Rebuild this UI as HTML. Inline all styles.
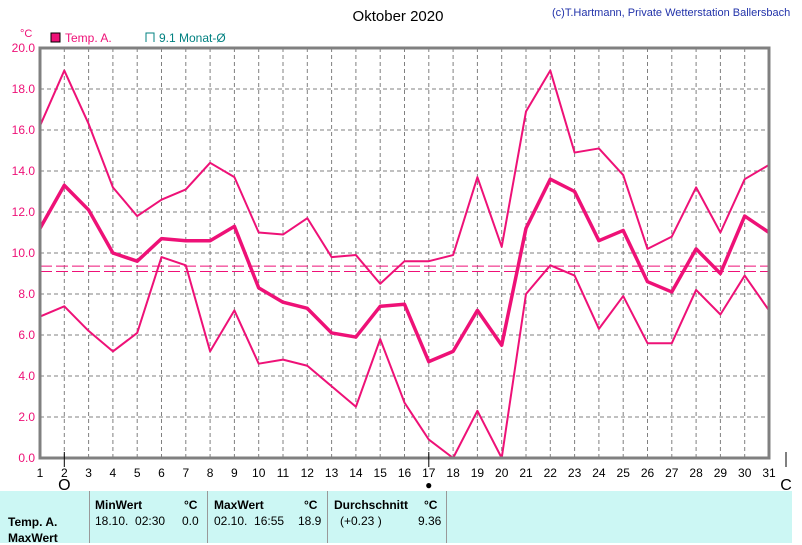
<!DOCTYPE html>
<html><head><meta charset="utf-8"><style>
body{margin:0;background:#fff;width:802px;height:543px;overflow:hidden;font-family:"Liberation Sans",sans-serif}
svg{position:absolute;left:0;top:0}
.panel{position:absolute;left:0;top:491px;width:792px;height:52px;background:#ccf7f4;font-size:12px;font-family:"Liberation Sans",sans-serif}
.panel div{position:absolute}
.b{font-weight:bold}
.vl{position:absolute;top:0;width:1px;height:52px;background:#999}
</style></head><body>
<svg width="802" height="543" id="chart">
<text x="398" y="21" font-size="15" text-anchor="middle" fill="#000">Oktober 2020</text>
<text x="552" y="16" font-size="11" fill="#2233aa">(c)T.Hartmann, Private Wetterstation Ballersbach</text>
<text x="20" y="37" font-size="11" fill="#ee1177">°C</text>
<rect x="51" y="33" width="9" height="9" fill="#ee1177" stroke="#000"/>
<text x="65" y="42" font-size="12" fill="#ee1177">Temp. A.</text>
<path d="M146 42V33h8v9" fill="none" stroke="#008080"/>
<text x="159" y="42" font-size="12" fill="#008080">9.1 Monat-Ø</text>
<g id="grid"></g><g id="series"></g><g id="axes"></g>
</svg>
<div class="panel">
<div class="vl" style="left:89px"></div><div class="vl" style="left:207px"></div><div class="vl" style="left:327px"></div><div class="vl" style="left:446px"></div>
<div class="b" style="left:8px;top:24px">Temp. A.</div>
<div class="b" style="left:8px;top:40px">MaxWert</div>
<div class="b" style="left:95px;top:7px">MinWert</div><div class="b" style="left:184px;top:7px">°C</div>
<div style="left:95px;top:23px">18.10.&nbsp; 02:30</div><div style="left:182px;top:23px">0.0</div>
<div class="b" style="left:214px;top:7px">MaxWert</div><div class="b" style="left:304px;top:7px">°C</div>
<div style="left:214px;top:23px">02.10.&nbsp; 16:55</div><div style="left:298px;top:23px">18.9</div>
<div class="b" style="left:334px;top:7px">Durchschnitt</div><div class="b" style="left:424px;top:7px">°C</div>
<div style="left:340px;top:23px">(+0.23 )</div><div style="left:418px;top:23px">9.36</div>
</div>
<script>
const days=[1,2,3,4,5,6,7,8,9,10,11,12,13,14,15,16,17,18,19,20,21,22,23,24,25,26,27,28,29,30,31];
const maxVals=[16.2,18.9,16.3,13.2,11.8,12.6,13.1,14.4,13.7,11.0,10.9,11.7,9.8,9.9,8.5,9.6,9.6,9.9,13.7,10.3,16.9,18.9,14.9,15.1,13.8,10.2,10.8,13.2,11.0,13.6,14.3];
const meanVals=[11.2,13.3,12.1,10.0,9.6,10.7,10.6,10.6,11.3,8.3,7.6,7.3,6.1,5.9,7.4,7.5,4.7,5.2,7.2,5.5,11.2,13.6,13.0,10.6,11.1,8.6,8.1,10.2,9.0,11.8,11.0];
const minVals=[6.9,7.4,6.2,5.2,6.1,9.8,9.4,5.2,7.2,4.6,4.8,4.5,3.5,2.5,5.8,2.7,0.9,0.0,2.3,0.0,8.0,9.4,8.9,6.3,7.9,5.6,5.6,8.2,7.0,8.9,7.2];
const yTicks=[0,2,4,6,8,10,12,14,16,18,20];
const avgLines=[9.36,9.1];
const NS="http://www.w3.org/2000/svg";
const X0=40,X1=769,Y0=458,Y1=48;
const xs=d=>X0+(d-1)*(X1-X0)/30, ys=v=>Y0-(v)*(Y0-Y1)/20;
function mk(t,a,p){const e=document.createElementNS(NS,t);for(const k in a)e.setAttribute(k,a[k]);p.appendChild(e);return e;}
const grid=document.getElementById('grid'),ser=document.getElementById('series'),ax=document.getElementById('axes');
yTicks.forEach(v=>{
 const l=mk('line',{x1:X0,x2:X1,y1:ys(v),y2:ys(v),stroke:'#808080','stroke-dasharray':'4,3'},grid);
 
 
 const t=mk('text',{x:35,y:ys(v)+4,'font-size':12,'text-anchor':'end',fill:'#ee1177'},ax);
 t.textContent=v.toFixed(1);
 
 
});
days.forEach(d=>{
 const l=mk('line',{x1:xs(d),x2:xs(d),y1:Y1,y2:Y0,stroke:'#808080','stroke-dasharray':'4,3'},grid);
 
 
 const t=mk('text',{x:xs(d),y:477,'font-size':12,'text-anchor':'middle',fill:'#000'},ax);
 t.textContent=d;
 
 
});
avgLines.forEach((v,i)=>{
 const l=mk('line',{x1:X0,x2:X1,y1:ys(v),y2:ys(v),stroke:'#ee1177','stroke-dasharray':'12,4'},ser);
 
 
});
[[maxVals,2,'max-line'],[meanVals,3.5,'mean-line'],[minVals,2,'min-line']].forEach(([arr,w,n])=>{
 const p=mk('polyline',{points:arr.map((v,i)=>xs(days[i])+','+ys(v)).join(' '),fill:'none',stroke:'#ee1177','stroke-width':w,'stroke-linejoin':'round'},ser);
 
 
});
const fr=mk('path',{d:`M${X0} ${Y1}H${X1}V${Y0}H${X0}Z`,fill:'none',stroke:'#808080','stroke-width':3},ax);


[[2,'O'],[17,'●'],[32,'C']].forEach(([d,s])=>{
 const x=d===32?786:xs(d);
 mk('line',{x1:x,x2:x,y1:452,y2:467,stroke:'#000'},ax);
 const t=mk('text',{x:x,y:d===17?489:490,'font-size':d===17?12:16,'text-anchor':'middle',fill:'#000'},ax);
 t.textContent=s;
 
 
});
</script>
</body></html>
